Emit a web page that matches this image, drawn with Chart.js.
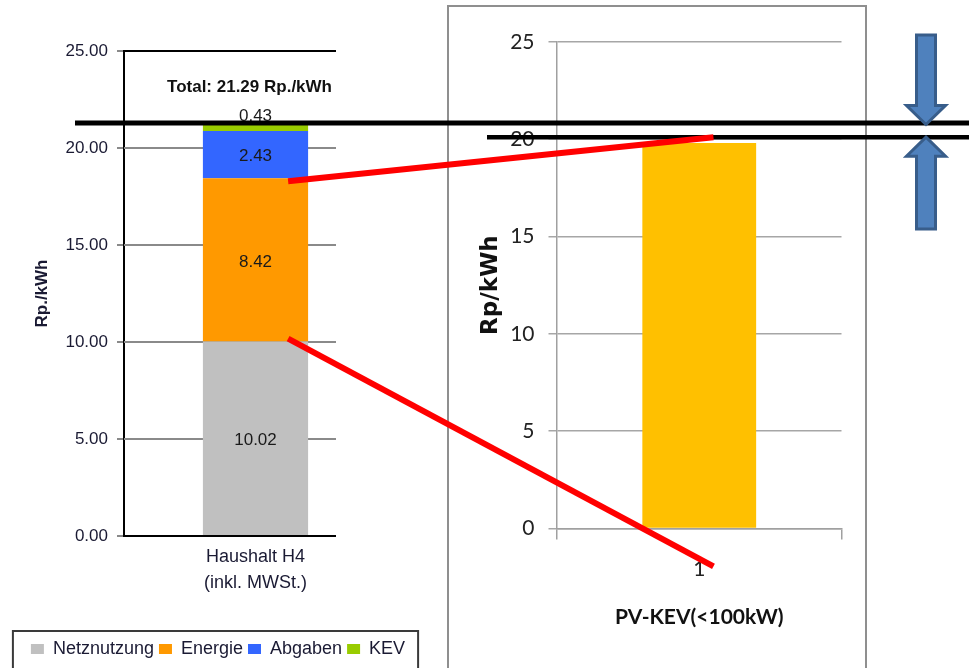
<!DOCTYPE html>
<html>
<head>
<meta charset="utf-8">
<script src="https://cdn.jsdelivr.net/npm/chart.js@4"></script>
<style>
  html, body { margin: 0; padding: 0; background: #fff; overflow: hidden; width: 969px; height: 668px; }
  #left { position: absolute; left: 0; top: 0; }
  #frame { position: absolute; left: 447px; top: 5px; width: 420px; height: 700px; border: 2px solid #8f8f8f; box-sizing: border-box; }
  #right { position: absolute; left: 449px; top: 7px; }
  #overlay { position: absolute; left: 0; top: 0; pointer-events: none; }
</style>
</head>
<body>
<div id="frame"></div>
<canvas id="left" width="436" height="668"></canvas>
<canvas id="right" width="416" height="661"></canvas>
<canvas id="overlay" width="969" height="668"></canvas>
<script>
// Household tariff breakdown (Rp./kWh)
const householdCategories = [['Haushalt H4', '(inkl. MWSt.)']];
const netznutzung = [10.02];
const energie = [8.42];
const abgaben = [2.43];
const kev = [0.43];
const householdTotals = [21.29];

// PV feed-in tariff (Rp./kWh)
const pvCategories = ['1'];
const pvTariff = [19.8];
const pvCompareLevel = 20.1;

const SANS = '"Liberation Sans", Arial, sans-serif';
const HUMAN = 'Lato, "Open Sans", sans-serif';
const LEFT_TEXT = '#1a1a33';
const GRID_SPAN = 212; // visible length of the household grid lines

Chart.defaults.font.family = SANS;
Chart.defaults.animation = false;

// Horizontal grid and baseline of the household chart, drawn only over GRID_SPAN
const shortGrid = {
  id: 'shortGrid',
  beforeDatasetsDraw(chart) {
    const { ctx, chartArea, scales: { y } } = chart;
    ctx.save();
    ctx.lineWidth = 2;
    y.ticks.forEach(t => {
      const py = y.getPixelForValue(t.value);
      ctx.strokeStyle = t.value === y.max ? '#000' : '#8a8a8a';
      ctx.beginPath();
      ctx.moveTo(chartArea.left, py);
      ctx.lineTo(chartArea.left + GRID_SPAN, py);
      ctx.stroke();
    });
    ctx.restore();
  },
  afterDatasetsDraw(chart) {
    const { ctx, chartArea, scales: { y } } = chart;
    const py = y.getPixelForValue(0);
    ctx.save();
    ctx.lineWidth = 2;
    ctx.strokeStyle = '#000';
    ctx.beginPath();
    ctx.moveTo(chartArea.left - 1, py);
    ctx.lineTo(chartArea.left + GRID_SPAN, py);
    ctx.stroke();
    ctx.restore();
  }
};

// Value labels inside the stacked segments plus the total above the bar
const segmentLabels = {
  id: 'segmentLabels',
  afterDatasetsDraw(chart) {
    const ctx = chart.ctx;
    const n = chart.data.datasets.length;
    ctx.save();
    ctx.textAlign = 'center';
    ctx.textBaseline = 'middle';
    ctx.font = '17px ' + SANS;
    ctx.fillStyle = '#1a1a1a';
    chart.data.datasets.forEach((ds, i) => {
      chart.getDatasetMeta(i).data.forEach((bar, j) => {
        const y = i === n - 1 ? bar.y - 6 : (bar.y + bar.base) / 2 + 2;
        ctx.fillText(ds.data[j].toFixed(2), bar.x, y);
      });
    });
    const top = chart.getDatasetMeta(n - 1).data[0];
    ctx.font = 'bold 17px ' + SANS;
    ctx.fillStyle = '#111';
    ctx.fillText('Total: ' + householdTotals[0].toFixed(2) + ' Rp./kWh', top.x - 6,
      chart.scales.y.getPixelForValue(householdTotals[0]) - 36);
    ctx.restore();
  }
};

// Frame around the legend items
const legendFrame = {
  id: 'legendFrame',
  afterDraw(chart) {
    const lg = chart.legend;
    if (!lg || !lg.legendHitBoxes.length) return;
    const hb = lg.legendHitBoxes;
    const l = Math.min(...hb.map(b => b.left));
    const r = Math.max(...hb.map(b => b.left + b.width));
    const ctx = chart.ctx;
    ctx.save();
    ctx.strokeStyle = '#3a3a3a';
    ctx.lineWidth = 2;
    ctx.strokeRect(l - 18, lg.top - 4, r - l + 31, 80);
    ctx.restore();
  }
};

const leftChart = new Chart(document.getElementById('left'), {
  type: 'bar',
  data: {
    labels: householdCategories,
    datasets: [
      { label: 'Netznutzung', data: netznutzung, backgroundColor: '#c0c0c0' },
      { label: 'Energie', data: energie, backgroundColor: '#ff9900' },
      { label: 'Abgaben', data: abgaben, backgroundColor: '#3366ff' },
      { label: 'KEV', data: kev, backgroundColor: '#99cc00' }
    ]
  },
  options: {
    responsive: false,
    events: [],
    layout: { padding: { left: 0, right: 0, top: 51, bottom: 0 } },
    datasets: { bar: { barPercentage: 0.4, categoryPercentage: 1, borderWidth: 0 } },
    plugins: {
      tooltip: { enabled: false },
      legend: {
        position: 'bottom',
        labels: { color: LEFT_TEXT, font: { size: 18 }, boxWidth: 13, boxHeight: 10, padding: 5 }
      }
    },
    scales: {
      x: {
        stacked: true,
        grid: { drawOnChartArea: false, drawTicks: false },
        border: { display: false },
        ticks: { color: LEFT_TEXT, font: { size: 18, lineHeight: 1.45 }, padding: 8 },
        afterFit(s) { s.height = 99; }
      },
      y: {
        stacked: true,
        min: 0, max: 25,
        ticks: { stepSize: 5, color: LEFT_TEXT, font: { size: 17 }, padding: 9, callback: v => v.toFixed(2) },
        grid: { drawOnChartArea: false, lineWidth: 2, tickLength: 7, tickColor: '#8a8a8a' },
        border: { color: '#000', width: 2 },
        title: { display: true, text: 'Rp./kWh', color: LEFT_TEXT, font: { size: 17, weight: 'bold' }, padding: { top: 32 } },
        afterFit(s) { s.width = 124; }
      },
      // empty right-hand margin inside the plot frame
      margin: {
        type: 'linear',
        position: 'right',
        grid: { display: false },
        border: { display: false },
        ticks: { display: false },
        afterFit(s) { s.width = 49; }
      }
    }
  },
  plugins: [shortGrid, segmentLabels, legendFrame]
});

const rightChart = new Chart(document.getElementById('right'), {
  type: 'bar',
  data: {
    labels: pvCategories,
    datasets: [{ label: 'PV-KEV(<100kW)', data: pvTariff, backgroundColor: '#ffc000', borderWidth: 0 }]
  },
  options: {
    responsive: false,
    events: [],
    layout: { padding: { left: 0, right: 23.5, top: 34.8, bottom: 0 } },
    datasets: { bar: { barPercentage: 0.4, categoryPercentage: 1 } },
    plugins: { tooltip: { enabled: false }, legend: { display: false } },
    scales: {
      x: {
        grid: { drawOnChartArea: false, tickLength: 11, color: '#a0a0a0', lineWidth: 1.5 },
        border: { color: '#a0a0a0', width: 1.5 },
        ticks: { color: '#222', font: { family: HUMAN, size: 21 }, padding: 17 },
        title: { display: true, text: 'PV-KEV(<100kW)', color: '#111', font: { family: HUMAN, size: 21, weight: 'bold' }, padding: { top: 0, bottom: 38 } },
        afterFit(s) { s.height = 139.6; }
      },
      y: {
        min: 0, max: 25,
        ticks: { stepSize: 5, color: '#222', font: { family: HUMAN, size: 21 }, padding: 14 },
        grid: { color: '#a6a6a6', lineWidth: 1.5, tickLength: 8.5 },
        border: { color: '#a0a0a0', width: 1.5 },
        title: { display: true, text: 'Rp/kWh', color: '#111', font: { family: '"DejaVu Sans", sans-serif', size: 23, weight: 'bold' }, padding: { top: 28 } },
        afterFit(s) { s.width = 108; }
      }
    }
  }
});

// Connector lines, level markers and arrows spanning both charts
function drawOverlay() {
  const ov = document.getElementById('overlay');
  const ctx = ov.getContext('2d');
  ctx.clearRect(0, 0, ov.width, ov.height);
  const lo = leftChart.canvas.getBoundingClientRect();
  const ro = rightChart.canvas.getBoundingClientRect();
  const ly = v => lo.top + leftChart.scales.y.getPixelForValue(v);
  const ry = v => ro.top + rightChart.scales.y.getPixelForValue(v);

  const lBar = leftChart.getDatasetMeta(0).data[0];
  const rBar = rightChart.getDatasetMeta(0).data[0];
  const lx = lo.left + lBar.x + lBar.width * 0.31;
  const rx = ro.left + rBar.x + rBar.width * 0.125;

  const totalY = ly(householdTotals[0]);
  const levelY = ry(pvCompareLevel);

  ctx.strokeStyle = '#000';
  ctx.lineCap = 'butt';
  ctx.lineWidth = 5;
  ctx.beginPath(); ctx.moveTo(75, totalY); ctx.lineTo(ov.width, totalY); ctx.stroke();
  ctx.lineWidth = 4.5;
  ctx.beginPath(); ctx.moveTo(487, levelY); ctx.lineTo(ov.width, levelY); ctx.stroke();

  ctx.strokeStyle = '#ff0000';
  ctx.lineWidth = 6;
  ctx.beginPath();
  ctx.moveTo(lx, ly(netznutzung[0] + energie[0]) + 3);
  ctx.lineTo(rx, levelY);
  ctx.stroke();
  ctx.beginPath();
  ctx.moveTo(lx, ly(netznutzung[0]) - 3);
  ctx.lineTo(rx, ry(0) + 38);
  ctx.stroke();

  const cx = 926;
  function arrow(tipY, tailY) {
    const d = tailY > tipY ? 1 : -1;
    const headY = tipY + d * 19;
    ctx.beginPath();
    ctx.moveTo(cx, tipY);
    ctx.lineTo(cx + 19.5, headY);
    ctx.lineTo(cx + 9.5, headY);
    ctx.lineTo(cx + 9.5, tailY);
    ctx.lineTo(cx - 9.5, tailY);
    ctx.lineTo(cx - 9.5, headY);
    ctx.lineTo(cx - 19.5, headY);
    ctx.closePath();
    ctx.fillStyle = '#4f81bd';
    ctx.fill();
    ctx.strokeStyle = '#385d8a';
    ctx.lineWidth = 3;
    ctx.lineJoin = 'miter';
    ctx.stroke();
  }
  arrow(totalY + 1.5, 35);
  arrow(levelY, 229);
}
drawOverlay();
requestAnimationFrame(drawOverlay);
</script>
</body>
</html>
